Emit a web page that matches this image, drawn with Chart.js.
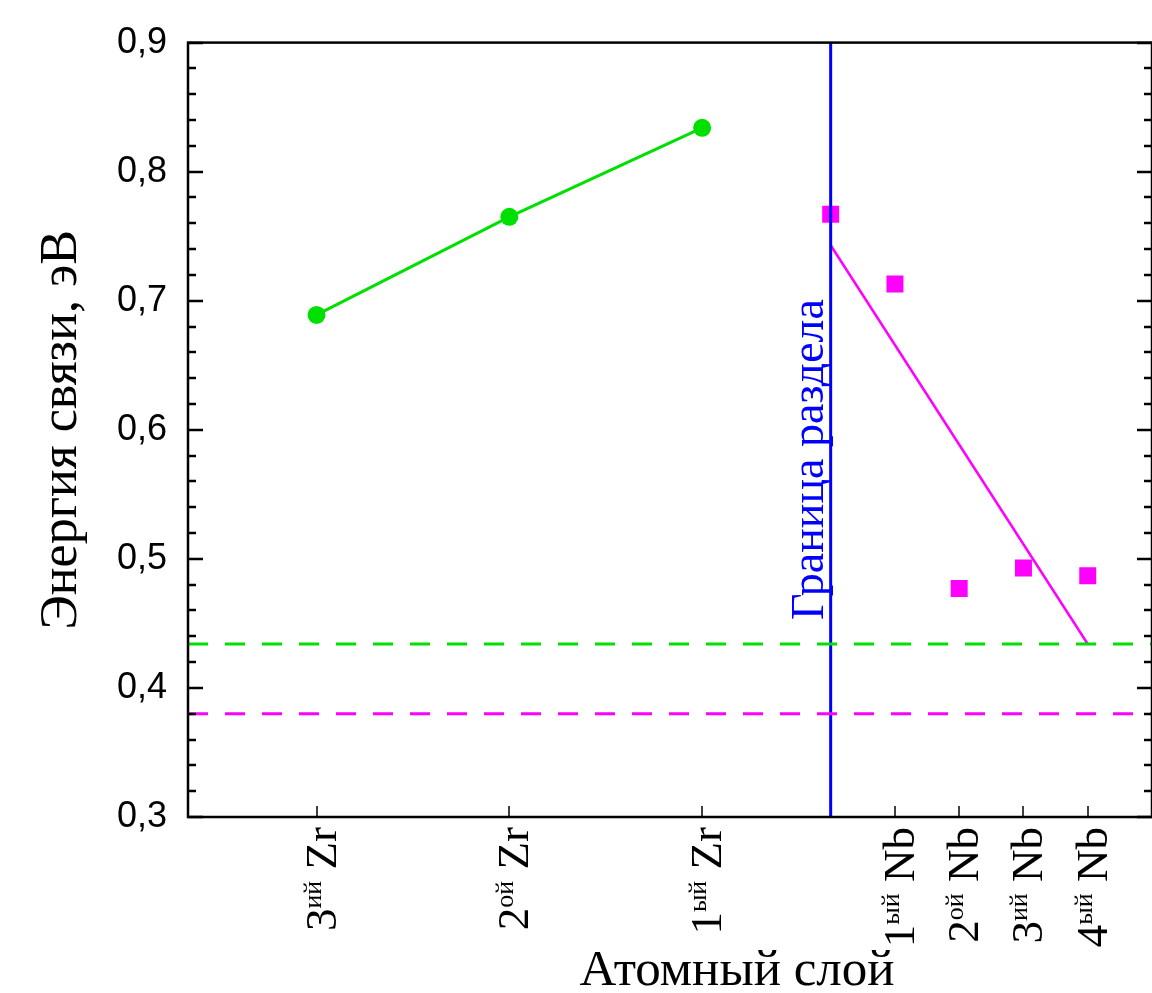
<!DOCTYPE html>
<html>
<head>
<meta charset="utf-8">
<script src="https://cdn.jsdelivr.net/npm/chart.js@4.4.1/dist/chart.umd.min.js"></script>
<style>
  html, body { margin: 0; padding: 0; background: #fff; overflow: hidden; }
  canvas { display: block; }
</style>
</head>
<body>
<canvas id="myChart" width="1152" height="993"></canvas>
<script>
// atomic layers along the x axis (boundary at 0)
const layerPos = [-8, -5, -2, 1, 2, 3, 4];
const layerNum = ['3', '2', '1', '1', '2', '3', '4'];
const layerSuf = ['ий', 'ой', 'ый', 'ый', 'ой', 'ий', 'ый'];
const layerEl = ['Zr', 'Zr', 'Zr', 'Nb', 'Nb', 'Nb', 'Nb'];

const zrX = [-8, -5, -2];
const zrEnergy = [0.689, 0.765, 0.834];
const nbX = [0, 1, 2, 3, 4];
const nbEnergy = [0.767, 0.713, 0.477, 0.493, 0.487];
const nbFitX = [0, 4];
const nbFitY = [0.743, 0.434];
const bulkX = [-10, 5];
const zrBulk = [0.434, 0.434];
const nbBulk = [0.38, 0.38];
const boundaryX = [0, 0];
const boundaryY = [0.3, 0.9];

const pts = (xs, ys) => xs.map((v, i) => ({ x: v, y: ys[i] }));

const GREEN = '#00e000';
const PINK = '#ff00ff';
const BLUE = '#0000ff';
const SERIF = '"Liberation Serif", "Times New Roman", serif';

const decor = {
  id: 'decor',
  afterDraw(chart) {
    const { ctx, chartArea: a, scales: { x, y } } = chart;
    ctx.save();
    ctx.strokeStyle = '#000';
    ctx.lineWidth = 2.5;
    ctx.strokeRect(a.left, a.top, a.right - a.left, a.bottom - a.top);

    // inward ticks on left and right, minor every 0.02
    for (let i = 0; i <= 30; i++) {
      const py = Math.round(y.getPixelForValue(0.3 + i * 0.02));
      const len = i % 5 === 0 ? 15 : 8;
      ctx.beginPath();
      ctx.moveTo(a.left, py); ctx.lineTo(a.left + len, py);
      ctx.moveTo(a.right, py); ctx.lineTo(a.right - len, py);
      ctx.stroke();
    }

    // bottom ticks + rotated labels with superscripts
    ctx.lineWidth = 1.5;
    ctx.fillStyle = '#000';
    const big = '45px ' + SERIF, small = '26px ' + SERIF;
    layerPos.forEach((p, i) => {
      const px = Math.round(x.getPixelForValue(p));
      ctx.beginPath();
      ctx.moveTo(px, a.bottom); ctx.lineTo(px, a.bottom - 11);
      ctx.stroke();

      ctx.save();
      ctx.translate(px + 19, a.bottom + 10);
      ctx.rotate(-Math.PI / 2);
      ctx.textBaseline = 'alphabetic';
      ctx.textAlign = 'left';
      ctx.font = big;
      const wNum = ctx.measureText(layerNum[i]).width;
      const wEl = ctx.measureText(' ' + layerEl[i]).width;
      ctx.font = small;
      const wSup = ctx.measureText(layerSuf[i]).width;
      let cx = -(wNum + wSup + wEl);
      ctx.font = big;
      ctx.fillText(layerNum[i], cx, 0);
      cx += wNum;
      ctx.font = small;
      ctx.fillText(layerSuf[i], cx, -15);
      cx += wSup;
      ctx.font = big;
      ctx.fillText(' ' + layerEl[i], cx, 0);
      ctx.restore();
    });

    // x axis title
    ctx.font = '51px ' + SERIF;
    ctx.textAlign = 'center';
    ctx.textBaseline = 'alphabetic';
    ctx.fillText('Атомный слой', 737, 985);

    // boundary label
    ctx.save();
    ctx.fillStyle = BLUE;
    ctx.translate(x.getPixelForValue(0) - 8, y.getPixelForValue(0.577));
    ctx.rotate(-Math.PI / 2);
    ctx.font = '46px ' + SERIF;
    ctx.textAlign = 'center';
    ctx.fillText('Граница раздела', 0, 0);
    ctx.restore();

    ctx.restore();
  }
};

const ctx = document.getElementById('myChart');
new Chart(ctx, {
  type: 'scatter',
  data: {
    datasets: [
      {
        data: pts(bulkX, zrBulk), showLine: true, borderColor: GREEN,
        borderWidth: 3, borderDash: [20, 17], pointRadius: 0
      },
      {
        data: pts(bulkX, nbBulk), showLine: true, borderColor: PINK,
        borderWidth: 3, borderDash: [20, 17], pointRadius: 0
      },
      {
        data: pts(boundaryX, boundaryY), showLine: true, borderColor: BLUE,
        borderWidth: 3, pointRadius: 0
      },
      {
        data: pts(nbFitX, nbFitY), showLine: true, borderColor: PINK,
        borderWidth: 2.5, pointRadius: 0
      },
      {
        data: pts(zrX, zrEnergy), showLine: true, borderColor: GREEN,
        backgroundColor: GREEN, borderWidth: 3, pointRadius: 9,
        pointBorderWidth: 0
      },
      {
        data: pts(nbX, nbEnergy), showLine: false, backgroundColor: PINK,
        borderColor: PINK, pointStyle: 'rect', pointRadius: 12,
        pointBorderWidth: 0
      }
    ]
  },
  options: {
    responsive: false,
    devicePixelRatio: 1,
    animation: false,
    layout: { autoPadding: false, padding: { top: 39, right: -2, left: 0, bottom: 0 } },
    plugins: { legend: { display: false }, tooltip: { enabled: false } },
    scales: {
      x: {
        type: 'linear', min: bulkX[0], max: bulkX[1],
        ticks: { display: false },
        grid: { display: false },
        border: { display: false },
        afterFit: s => { s.height = 176; }
      },
      y: {
        min: boundaryY[0], max: boundaryY[1],
        ticks: {
          stepSize: 0.1, padding: 21, color: '#000',
          font: { family: '"Liberation Sans", Arial, sans-serif', size: 36 },
          callback: v => v.toFixed(1).replace('.', ',')
        },
        grid: { display: false, drawTicks: false },
        border: { display: false },
        title: {
          display: true, text: 'Энергия связи, эВ', color: '#000',
          font: { family: SERIF, size: 52 }, padding: { top: 31, bottom: 0 }
        },
        afterFit: s => { s.width = 188; }
      }
    }
  },
  plugins: [decor]
});
</script>
</body>
</html>
